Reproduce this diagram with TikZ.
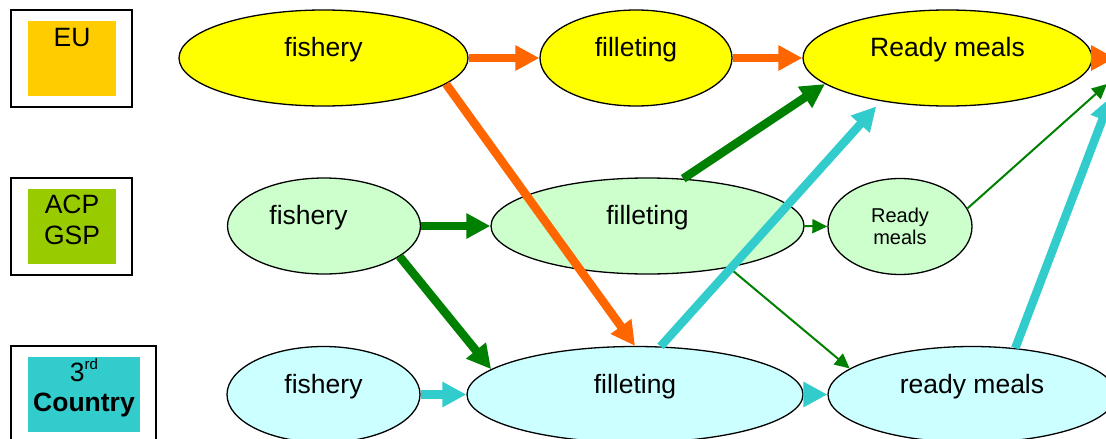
\documentclass[tikz,border=0pt]{standalone}
\usepackage{fontspec}
\setmainfont{Liberation Sans}
\usetikzlibrary{shapes.geometric,arrows.meta}

\definecolor{euFill}{HTML}{FFCC00}
\definecolor{acpFill}{HTML}{99CC00}
\definecolor{thirdFill}{HTML}{33CCCC}
\definecolor{ellYellow}{HTML}{FFFF00}
\definecolor{ellGreen}{HTML}{CCFFCC}
\definecolor{ellCyan}{HTML}{CCFFFF}
\definecolor{arrOrange}{HTML}{FF6600}
\definecolor{arrGreen}{HTML}{008000}
\definecolor{arrCyan}{HTML}{33CCCC}

\begin{document}
\begin{tikzpicture}[x=1pt,y=-1pt,
  big/.style={font=\fontsize{26.5pt}{31pt}\selectfont},
  ell/.style={ellipse, draw=black, line width=1.3pt, inner sep=0pt,
    minimum height=96pt, big, text height=0pt, text depth=3pt},
  outerbox/.style={rectangle, draw=black, line width=1.5pt, inner sep=0pt},
  innerbox/.style={rectangle, inner sep=0pt},
  lab/.style={big, inner sep=0pt, anchor=base},
  thickarr/.style={line width=8.5pt, -{Triangle[length=24pt,width=24pt]}},
  thinarr/.style={line width=2pt, -{Triangle[length=15pt,width=14pt]}},
]
\useasboundingbox (0,0) rectangle (1106,439);
\clip (0,0) rectangle (1106,439);

% ---- legend boxes on the left
\node[outerbox, minimum width=121pt, minimum height=97pt] (euOut) at (71.5,58.5) {};
\node[innerbox, fill=euFill, minimum width=88pt, minimum height=75pt] (euIn) at (72,58.5) {};
\node[lab] (euTxt) at (72,46) {EU};

\node[outerbox, minimum width=121pt, minimum height=97pt] (acpOut) at (71.5,226.5) {};
\node[innerbox, fill=acpFill, minimum width=88pt, minimum height=75pt] (acpIn) at (72,226.5) {};
\node[lab] (acpTxt) at (72,213) {ACP};
\node[lab] (gspTxt) at (72,244) {GSP};

\node[outerbox, minimum width=145pt, minimum height=104pt] (thOut) at (83.5,398) {};
\node[innerbox, fill=thirdFill, minimum width=112pt, minimum height=75pt] (thIn) at (84,394.5) {};
\node[lab] (thTxt) at (84,381) {3\raisebox{12pt}{\fontsize{15pt}{15pt}\selectfont rd}};
\node[lab, font=\fontsize{26.5pt}{31pt}\selectfont\bfseries] (ctyTxt) at (84,411) {Country};

% ---- EU row
\node[ell, fill=ellYellow, minimum width=289pt] (f1) at (323.5,58) {fishery};
\node[ell, fill=ellYellow, minimum width=192pt] (l1) at (636,58) {filleting};
\node[ell, fill=ellYellow, minimum width=289pt] (r1) at (947.5,58) {Ready meals};

% ---- ACP / GSP row
\node[ell, fill=ellGreen, minimum width=193pt] (f2) at (324,226) {fishery\hspace*{31pt}};
\node[ell, fill=ellGreen, minimum width=313pt] (l2) at (647.5,226) {filleting};
\node[ellipse, draw=black, line width=1.3pt, inner sep=0pt, fill=ellGreen,
  minimum width=144pt, minimum height=96pt, align=center,
  font=\fontsize{20pt}{22pt}\selectfont] (r2) at (900,226.5) {Ready\\meals};

% ---- third country row
\node[ell, fill=ellCyan, minimum width=193pt] (f3) at (323.5,394.5) {fishery};
\node[ell, fill=ellCyan, minimum width=336pt] (l3) at (635,394.5) {filleting};
\node[ell, fill=ellCyan, minimum width=288pt] (r3) at (972,394.5) {ready meals};

% ---- destinations beyond the right edge
\coordinate (outA) at (1115,58);
\coordinate (outB) at (1107,84);
\coordinate (outC) at (1111,97);

% ---- EU flows
\draw[thickarr, arrOrange] (f1.east) -- (l1.west);
\draw[thickarr, arrOrange] (l1.east) -- (r1.west);
\draw[thickarr, arrOrange] (r1.east) -- (outA);
\draw[thickarr, arrOrange] (f1.-12) -- (l3.north);

% ---- ACP / GSP flows
\draw[thickarr, arrGreen] (f2.east) -- (l2.west);
\draw[thickarr, arrGreen] (f2.-22) -- (l3.170);
\draw[thickarr, arrGreen] (l2.53) -- (r1.-168);
\draw[thinarr, arrGreen] (l2.east) -- (r2.west);
\draw[thinarr, arrGreen] (l2.-27) -- (r3.168);
\draw[thinarr, arrGreen] (r2.15) -- (outB);

% ---- third country flows
\draw[thickarr, arrCyan] (f3.east) -- (l3.west);
\draw[thickarr, arrCyan] (l3.east) -- (r3.west);
\draw[thickarr, arrCyan, shorten >=7pt] (l3.62) -- (r1.213);
\draw[thickarr, arrCyan] (r3.47) -- (outC);
\end{tikzpicture}
\end{document}
